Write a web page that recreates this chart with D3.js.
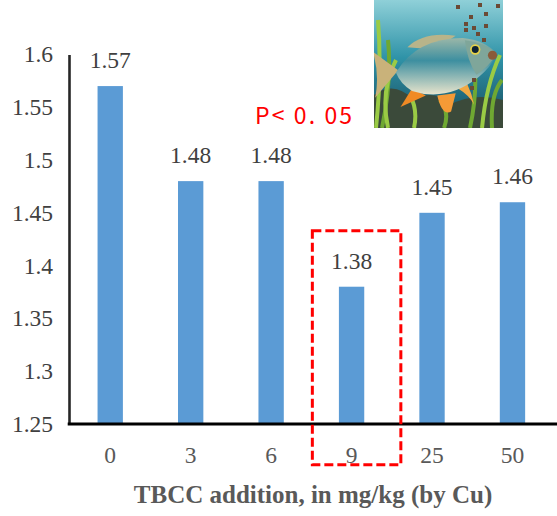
<!DOCTYPE html>
<html>
<head>
<meta charset="utf-8">
<script src="https://cdn.jsdelivr.net/npm/d3@7"></script>
<style>
  body { margin: 0; background: #fff; }
  svg { display: block; }
</style>
</head>
<body>
<div id="chart"></div>
<script>
// data
const categories = ['0', '3', '6', '9', '25', '50'];
const values = [1.57, 1.48, 1.48, 1.38, 1.45, 1.46];
const yTicks = [1.25, 1.3, 1.35, 1.4, 1.45, 1.5, 1.55, 1.6];
const highlight = ['9'];
const xTitle = 'TBCC addition, in mg/kg (by Cu)';
const noteText = 'P< 0. 05';

const width = 557, height = 516;
const plotLeft = 70, plotRight = 552.7, plotTop = 54.4, plotBottom = 424;
const serif = '"Liberation Serif", "Times New Roman", serif';

const svg = d3.select('#chart').append('svg')
    .attr('width', width)
    .attr('height', height);

const x = d3.scaleBand()
    .domain(categories)
    .range([plotLeft, plotRight])
    .paddingInner(0.685)
    .paddingOuter(0.3425);

const y = d3.scaleLinear()
    .domain([1.25, 1.6])
    .range([plotBottom, plotTop]);

// bars
svg.append('g').selectAll('rect')
    .data(values)
    .enter().append('rect')
    .attr('x', (d, i) => x(categories[i]))
    .attr('y', d => y(d))
    .attr('width', x.bandwidth())
    .attr('height', d => y(1.25) - y(d))
    .style('fill', '#5B9BD5');

// value labels
svg.append('g').selectAll('text')
    .data(values)
    .enter().append('text')
    .attr('x', (d, i) => x(categories[i]) + x.bandwidth() / 2)
    .attr('y', d => y(d) - 18)
    .style('text-anchor', 'middle')
    .style('font-family', serif)
    .style('font-size', '23.5px')
    .style('fill', '#404040')
    .text(d => d.toFixed(2));

// y axis
const yAxis = svg.append('g')
    .attr('transform', 'translate(' + (plotLeft - 1) + ',0)')
    .call(d3.axisLeft(y).tickValues(yTicks).tickSize(0).tickPadding(16)
        .tickFormat(d => String(+d.toFixed(2))));
yAxis.select('.domain').attr('stroke', '#262626').attr('stroke-width', 2.6);
yAxis.selectAll('text')
    .style('font-family', serif)
    .style('font-size', '23.5px')
    .style('fill', '#404040');

// x axis
const xAxis = svg.append('g')
    .attr('transform', 'translate(0,' + plotBottom + ')')
    .call(d3.axisBottom(x).tickSize(0).tickPadding(22));
xAxis.select('.domain').remove();
xAxis.append('line')
    .attr('x1', plotLeft - 2.3).attr('x2', width)
    .attr('y1', 0).attr('y2', 0)
    .attr('stroke', '#000').attr('stroke-width', 3);
xAxis.selectAll('text')
    .style('font-family', serif)
    .style('font-size', '23.5px')
    .style('fill', '#595959');

// axis title
svg.append('text')
    .attr('x', 313)
    .attr('y', 503)
    .style('text-anchor', 'middle')
    .style('font-family', serif)
    .style('font-weight', 'bold')
    .style('font-size', '25px')
    .style('fill', '#595959')
    .text(xTitle);

// red dashed box round the significant group
svg.append('g').selectAll('rect')
    .data(highlight)
    .enter().append('rect')
    .attr('x', d => x(d) - x.step() * 0.5 + x.bandwidth() / 2 + 1)
    .attr('y', d => y(values[categories.indexOf(d)]) - 56)
    .attr('width', x.step() * 1.1)
    .attr('height', 234)
    .style('fill', 'none')
    .style('stroke', '#FF0000')
    .style('stroke-width', '3px')
    .style('stroke-dasharray', '9,4');

svg.append('text')
    .attr('x', 255)
    .attr('y', 124)
    .attr('textLength', 97)
    .style('font-family', '"Noto Sans CJK JP", "Noto Sans", sans-serif')
    .style('font-size', '23px')
    .style('fill', '#FF0000')
    .text(noteText);

// picture of a fish, drawn with shapes
const pic = svg.append('g').attr('transform', 'translate(374,0)');
const defs = svg.append('defs');
const water = defs.append('linearGradient').attr('id', 'water')
    .attr('x1', 0).attr('y1', 0).attr('x2', 0).attr('y2', 1);
water.append('stop').attr('offset', '0%').attr('stop-color', '#8fd0d8');
water.append('stop').attr('offset', '45%').attr('stop-color', '#2f93a8');
water.append('stop').attr('offset', '100%').attr('stop-color', '#16485a');
const body = defs.append('linearGradient').attr('id', 'fishbody')
    .attr('x1', 0).attr('y1', 0).attr('x2', 0).attr('y2', 1);
body.append('stop').attr('offset', '0%').attr('stop-color', '#9bb7a8');
body.append('stop').attr('offset', '40%').attr('stop-color', '#3d8fa0');
body.append('stop').attr('offset', '100%').attr('stop-color', '#e8e4cc');
const clip = defs.append('clipPath').attr('id', 'picclip');
clip.append('rect').attr('width', 129).attr('height', 128);

const scene = pic.append('g').attr('clip-path', 'url(#picclip)');
scene.append('rect').attr('width', 129).attr('height', 128).style('fill', 'url(#water)');
scene.append('path')
    .attr('d', 'M0,128 L0,95 Q20,80 40,100 Q60,88 75,105 Q100,92 129,100 L129,128 Z')
    .style('fill', '#3b4a3a');
// weeds
const weeds = [
    'M2,128 Q8,70 4,20', 'M8,128 Q18,80 14,40', 'M14,128 Q6,90 22,60',
    'M96,128 Q104,90 100,60', 'M108,128 Q112,85 126,55', 'M118,128 Q116,95 128,80',
    'M40,128 Q44,110 36,95', 'M70,128 Q76,112 66,100'
];
scene.append('g').selectAll('path')
    .data(weeds)
    .enter().append('path')
    .attr('d', d => d)
    .style('fill', 'none')
    .style('stroke', (d, i) => i % 2 ? '#6fa832' : '#9acb45')
    .style('stroke-width', 4);
const fish = scene.append('g').attr('transform', 'translate(-8,-8) scale(1.15)');
// tail and fins
fish.append('path').attr('d', 'M28,68 L6,52 Q12,72 8,92 Z').style('fill', '#c9b27a');
fish.append('path').attr('d', 'M40,84 L30,100 L52,90 Z').style('fill', '#f08a24');
fish.append('path').attr('d', 'M62,90 Q66,108 74,104 Q76,96 78,88 Z').style('fill', '#f59a36');
fish.append('path').attr('d', 'M80,84 Q90,90 94,98 Q92,88 88,80 Z').style('fill', '#f2a944');
fish.append('path').attr('d', 'M36,48 Q50,34 78,38 L60,50 Z').style('fill', '#b8b48a');
// body
fish.append('path')
    .attr('d', 'M26,70 Q44,40 84,40 Q104,42 114,54 Q108,66 98,74 Q70,96 40,86 Q30,80 26,70 Z')
    .style('fill', 'url(#fishbody)');
fish.append('path')
    .attr('d', 'M86,42 Q104,44 114,54 Q106,66 96,72 Q88,60 86,42 Z')
    .style('fill', '#7fa69a');
fish.append('circle').attr('cx', 95).attr('cy', 50).attr('r', 4.5).style('fill', '#e6d24a');
fish.append('circle').attr('cx', 95).attr('cy', 50).attr('r', 3).style('fill', '#0e2233');
fish.append('circle').attr('cx', 110).attr('cy', 55).attr('r', 4).style('fill', '#8a5a3a');
// food pellets
const pellets = [[82, 5], [104, 3], [122, 4], [95, 15], [110, 12], [90, 22], [98, 26], [110, 24], [102, 32], [108, 38], [90, 28], [98, 78], [96, 86]];
scene.append('g').selectAll('rect')
    .data(pellets)
    .enter().append('rect')
    .attr('x', d => d[0])
    .attr('y', d => d[1])
    .attr('width', 4).attr('height', 4)
    .style('fill', '#6b4a35');
</script>
</body>
</html>
